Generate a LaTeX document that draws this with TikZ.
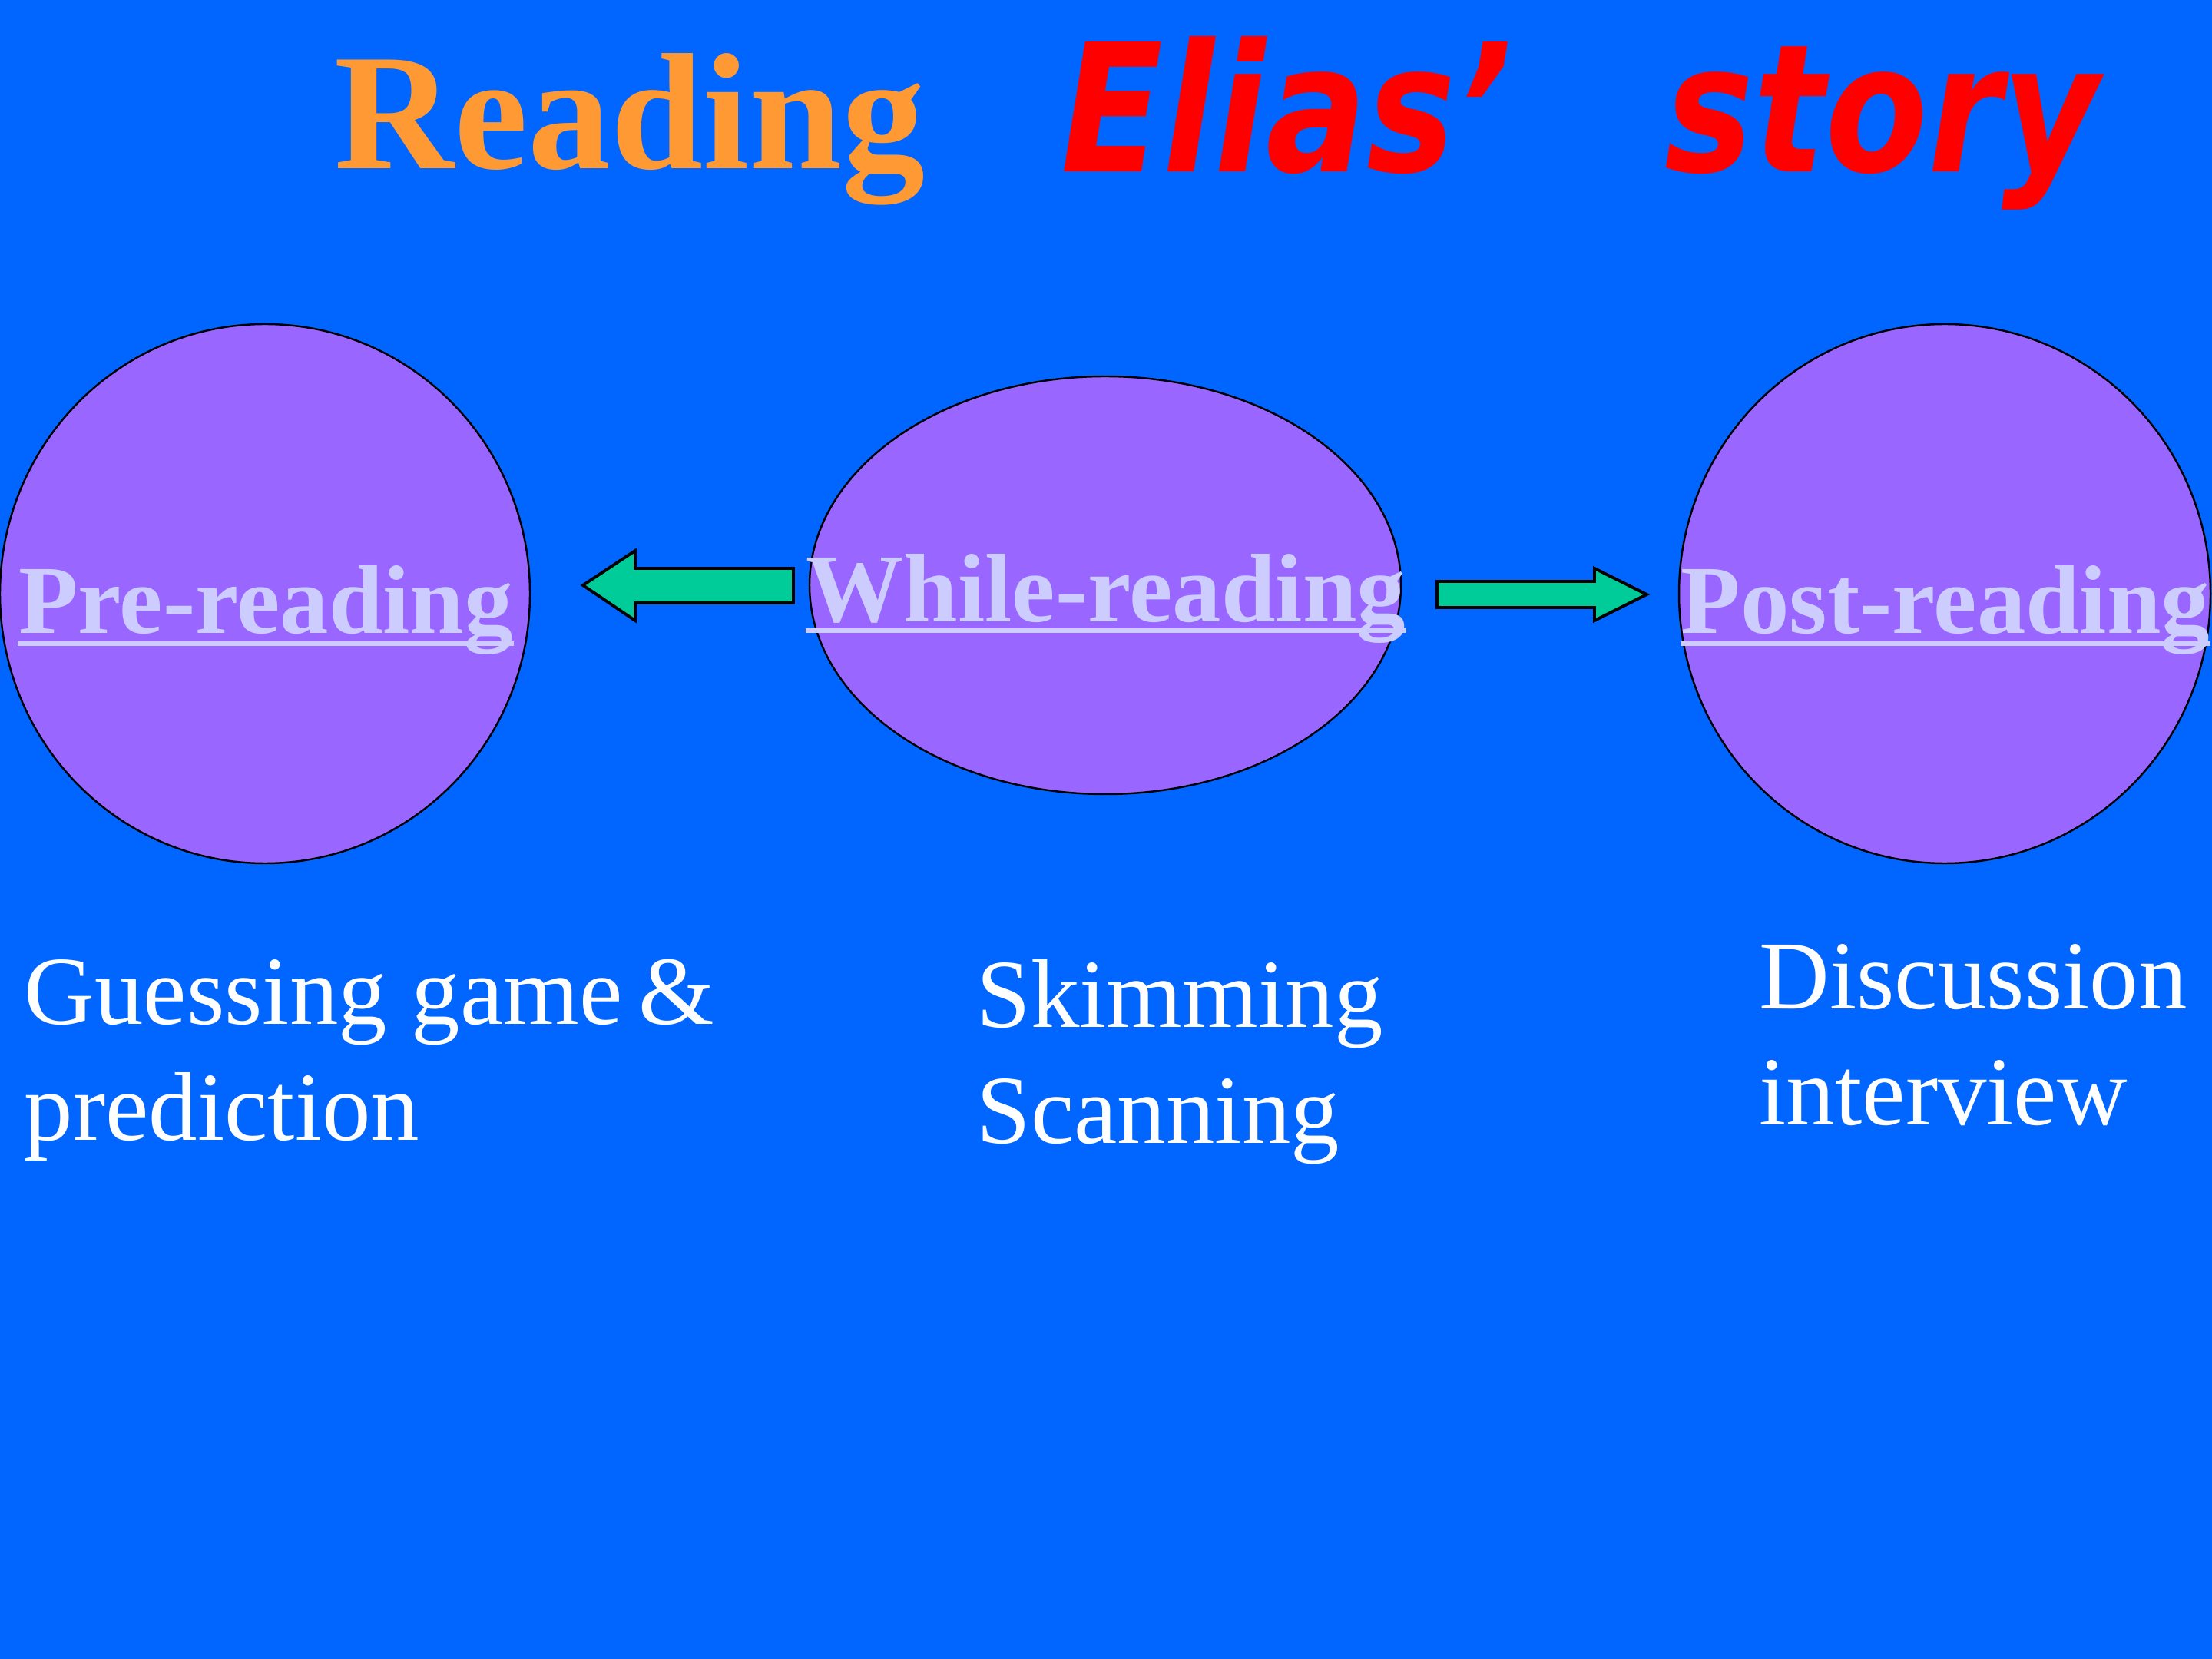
\documentclass[tikz,border=0pt]{standalone}
\usepackage{fontspec}
\usepackage{graphicx}
\setmainfont{Liberation Serif}
\newfontfamily\comicfont{DejaVu Sans}
\usetikzlibrary{shapes.geometric}
\definecolor{bgblue}{HTML}{0066FF}
\definecolor{bubble}{HTML}{9966FF}
\definecolor{lav}{HTML}{CCCCFF}
\definecolor{arrgreen}{HTML}{00CC99}
\definecolor{orng}{HTML}{FF9933}
\definecolor{redt}{HTML}{FF0000}
\tikzset{
  bubblestyle/.style={ellipse, draw=black, line width=0.7pt, fill=bubble, inner sep=0pt},
  stagelabel/.style={inner sep=0pt, text=lav, font=\fontsize{36.1}{43}\selectfont\bfseries, anchor=base},
  underl/.style={lav, line width=0.06cm},
  blockarrow/.style={draw=black, line width=1.1pt, fill=arrgreen, line join=miter},
  bodytext/.style={inner sep=0pt, text=white, font=\fontsize{36.1}{42.7}\selectfont, anchor=base west, align=left},
}
\begin{document}
\begin{tikzpicture}
\fill[bgblue] (0,0) rectangle (28.8,-21.6);
\useasboundingbox (0,0) rectangle (28.8,-21.6);

% title
\node[inner sep=0pt, anchor=base west, text=orng, font=\fontsize{61.5}{70}\selectfont\bfseries] (tread) at (4.35,-2.20) {Reading};
\node[inner sep=0pt, anchor=base west, text=redt, font=\comicfont\fontsize{66}{75}\selectfont\bfseries\itshape] (telias) at (13.81,-2.24) {\scalebox{0.84}[1]{Elias’}};
\node[inner sep=0pt, anchor=base west, text=redt, font=\comicfont\fontsize{66}{75}\selectfont\bfseries\itshape] (tstory) at (21.67,-2.24) {\scalebox{0.84}[1]{story}};

% bubbles
\node[bubblestyle, minimum width=6.90cm, minimum height=7.02cm] (pre) at (3.45,-7.73) {};
\node[bubblestyle, minimum width=7.70cm, minimum height=5.44cm] (while) at (14.39,-7.62) {};
\node[bubblestyle, minimum width=6.92cm, minimum height=7.02cm] (post) at (25.32,-7.73) {};

% stage labels
\node[stagelabel] (prel) at (3.46,-8.25) {Pre-reading};
\node[stagelabel] (whilel) at (14.40,-8.10) {While-reading};
\node[stagelabel] (postl) at (25.33,-8.25) {Post-reading};
\draw[underl] ([yshift=-0.13cm]prel.base west) -- ([yshift=-0.13cm]prel.base east);
\draw[underl] ([yshift=-0.11cm]whilel.base west) -- ([yshift=-0.11cm]whilel.base east);
\draw[underl] ([yshift=-0.13cm]postl.base west) -- ([yshift=-0.13cm]postl.base east);

% block arrows
\draw[blockarrow] (7.59,-7.62) -- (8.27,-7.17) -- (8.27,-7.40) -- (10.33,-7.40) -- (10.33,-7.85) -- (8.27,-7.85) -- (8.27,-8.08) -- cycle;
\draw[blockarrow] (18.71,-7.57) -- (20.76,-7.57) -- (20.76,-7.40) -- (21.44,-7.74) -- (20.76,-8.08) -- (20.76,-7.91) -- (18.71,-7.91) -- cycle;

% descriptions (base anchor = baseline of last line)
\node[bodytext] (preb) at (0.31,-14.84) {Guessing game\,\&\\prediction};
\node[bodytext] (whileb) at (12.71,-14.88) {Skimming\\Scanning};
\node[bodytext] (postb) at (22.90,-14.64) {Discussion\\interview};
\end{tikzpicture}
\end{document}
